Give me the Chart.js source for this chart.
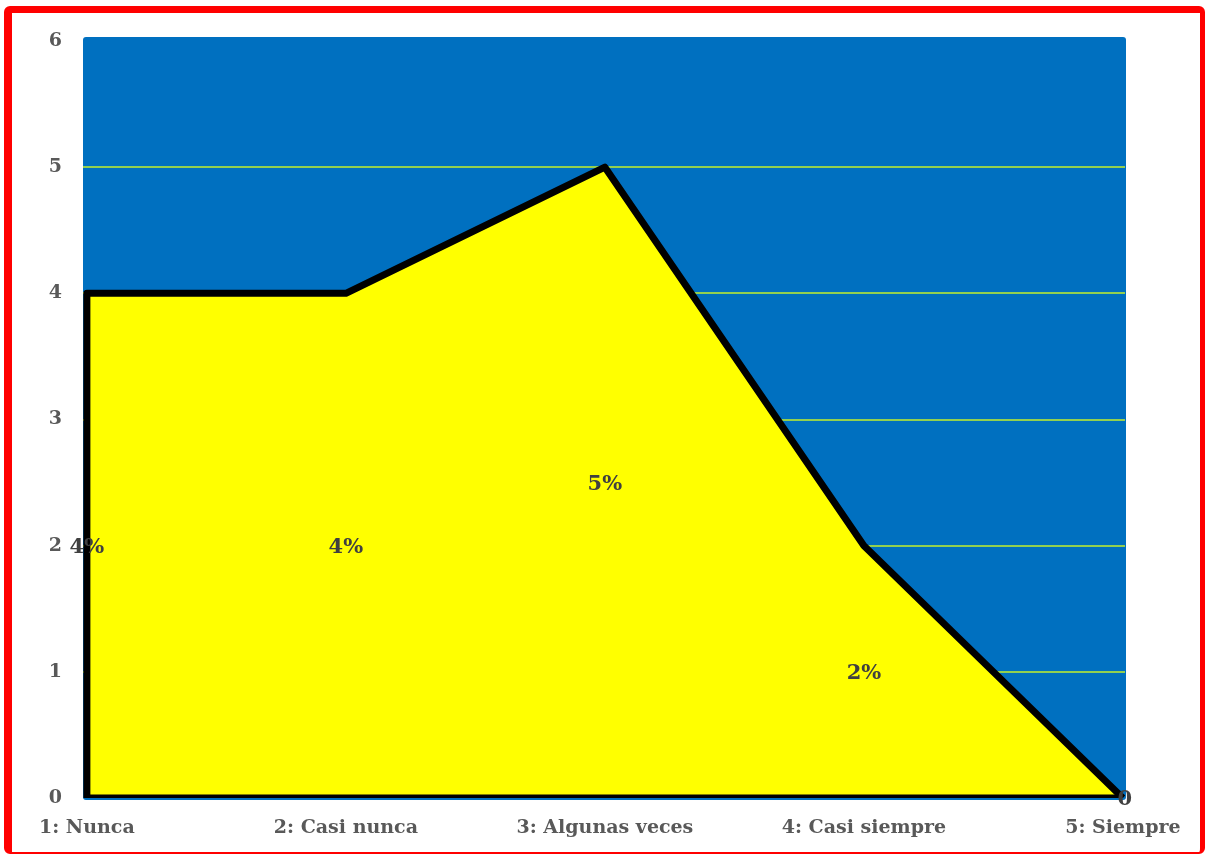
<!DOCTYPE html>
<html>
<head>
<meta charset="utf-8">
<script src="https://cdn.jsdelivr.net/npm/chart.js@4"></script>
<style>
  html, body { margin: 0; padding: 0; background: #fff; }
  #wrap { position: relative; width: 1214px; height: 857px; }
  #frame {
    position: absolute; left: 4px; top: 6px; width: 1201px; height: 848px;
    border-style: solid; border-color: #ff0000;
    border-width: 7px 5px 2px 8px; border-radius: 6px;
    box-sizing: border-box; pointer-events: none;
  }
</style>
</head>
<body>
<div id="wrap">
  <canvas id="chart" width="1214" height="857"></canvas>
  <div id="frame"></div>
</div>
<script>
const categories = ['1: Nunca', '2: Casi nunca', '3: Algunas veces', '4: Casi siempre', '5: Siempre'];
const values = [4, 4, 5, 2, 0];
const valueLabels = ['4%', '4%', '5%', '2%', '0'];
const yTicks = [0, 1, 2, 3, 4, 5, 6];

const FONT = '"DejaVu Serif", serif';

// area outline: up the left side, then across the values
const area = [{ x: 0, y: 0 }].concat(values.map((v, i) => ({ x: i, y: v })));
// bottom edge of the area
const baseline = [{ x: 0, y: 0 }, { x: values.length - 1, y: 0 }];

const plotBackground = {
  id: 'plotBackground',
  beforeDraw(chart) {
    const { ctx, chartArea } = chart;
    ctx.save();
    ctx.fillStyle = '#0070C0';
    ctx.beginPath();
    ctx.roundRect(chartArea.left, chartArea.top - 4, chartArea.width + 1, chartArea.height + 6, 3);
    ctx.fill();
    ctx.restore();
  },
};

const midLabels = {
  id: 'midLabels',
  afterDatasetsDraw(chart) {
    const { ctx, scales } = chart;
    ctx.save();
    ctx.font = 'bold 21px ' + FONT;
    ctx.fillStyle = '#404040';
    ctx.textAlign = 'center';
    ctx.textBaseline = 'middle';
    values.forEach((v, i) => {
      ctx.fillText(valueLabels[i], scales.x.getPixelForValue(i) + (i === values.length - 1 ? 2 : 0), scales.y.getPixelForValue(v / 2) + 2);
    });
    ctx.restore();
  },
};

new Chart(document.getElementById('chart'), {
  type: 'line',
  data: {
    datasets: [{
      data: area,
      borderColor: '#000000',
      borderWidth: 7,
      borderJoinStyle: 'round',
      backgroundColor: '#FFFF00',
      fill: 'origin',
      tension: 0,
      pointRadius: 0,
      order: 1,
    }, {
      data: baseline,
      borderColor: '#000000',
      borderWidth: 7,
      fill: false,
      pointRadius: 0,
      order: -1,
    }],
  },
  options: {
    responsive: false,
    animation: false,
    events: [],
    layout: { padding: { left: 0, top: 41, right: 89, bottom: 0 } },
    plugins: { legend: { display: false }, tooltip: { enabled: false } },
    scales: {
      x: {
        type: 'linear',
        min: -0.015,
        max: 4.008,
        border: { display: false },
        grid: { display: false, drawTicks: false },
        afterFit(scale) { scale.height = 59; },
        afterBuildTicks(scale) {
          scale.ticks = categories.map((c, i) => ({ value: i }));
        },
        ticks: {
          padding: 19,
          color: '#595959',
          font: { family: FONT, size: 19, weight: 'bold' },
          maxRotation: 0,
          autoSkip: false,
          callback: (v) => categories[v],
        },
      },
      y: {
        min: 0,
        max: 6,
        border: { display: false },
        afterFit(scale) { scale.width = 83; },
        afterBuildTicks(scale) {
          scale.ticks = yTicks.map((t) => ({ value: t }));
        },
        grid: {
          drawTicks: false,
          lineWidth: 2,
          color: (c) => (c.tick && (c.tick.value === 0 || c.tick.value === 6) ? 'rgba(0,0,0,0)' : '#92D050'),
        },
        ticks: {
          padding: 21,
          color: '#595959',
          font: { family: FONT, size: 19, weight: 'bold' },
        },
      },
    },
  },
  plugins: [plotBackground, midLabels],
});
</script>
</body>
</html>
